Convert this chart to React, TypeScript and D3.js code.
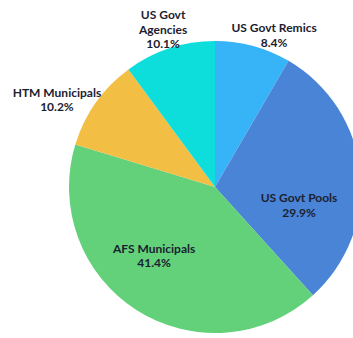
import React from "react";
import * as d3 from "d3";

const categories = ["US Govt Remics", "US Govt Pools", "AFS Municipals", "HTM Municipals", "US Govt Agencies"];
const values = [8.4, 29.9, 41.4, 10.2, 10.1];
const labelLines = [["US Govt Remics"], ["US Govt Pools"], ["AFS Municipals"], ["HTM Municipals"], ["US Govt", "Agencies"]];
const colors = ["#36B4F7", "#4A84D6", "#62D17A", "#F2BE44", "#0DDEDB"];

// label placement (radius in px, angular shift from slice mid in degrees)
const labelRadius = [159, 87, 95, 178.5, 162];
const labelShift = [6.7, 21, 7.5, -7.6, -0.5];

const W = 353, H = 338;
const cx = 215, cy = 187, R = 146;
const lineH = 14.5;

export default function App() {
  const pie = d3.pie<number>().sort(null).value((d) => d);
  const arcs = pie(values);
  const arc = d3.arc<d3.PieArcDatum<number>>().innerRadius(0).outerRadius(R);
  return (
    <svg width={W} height={H} style={{ position: "absolute", left: 0, top: 0, overflow: "hidden", background: "#fff" }}>
      <g transform={`translate(${cx},${cy})`}>
        {arcs.map((a, i) => (
          <path key={i} d={arc(a) || ""} fill={colors[i]} />
        ))}
        {arcs.map((a, i) => {
          const mid = (a.startAngle + a.endAngle) / 2 + (labelShift[i] * Math.PI) / 180;
          const x = Math.sin(mid) * labelRadius[i];
          const y = -Math.cos(mid) * labelRadius[i];
          const lines = [...labelLines[i], `${values[i].toFixed(1)}%`];
          const top = y - ((lines.length - 1) * lineH) / 2;
          return (
            <text key={i} textAnchor="middle" fontFamily="Lato, 'Open Sans', sans-serif" fontWeight="bold" fontSize={12} fill="#1b2130">
              {lines.map((l, j) => (
                <tspan key={j} x={x} y={top + j * lineH}>{l}</tspan>
              ))}
            </text>
          );
        })}
      </g>
    </svg>
  );
}
